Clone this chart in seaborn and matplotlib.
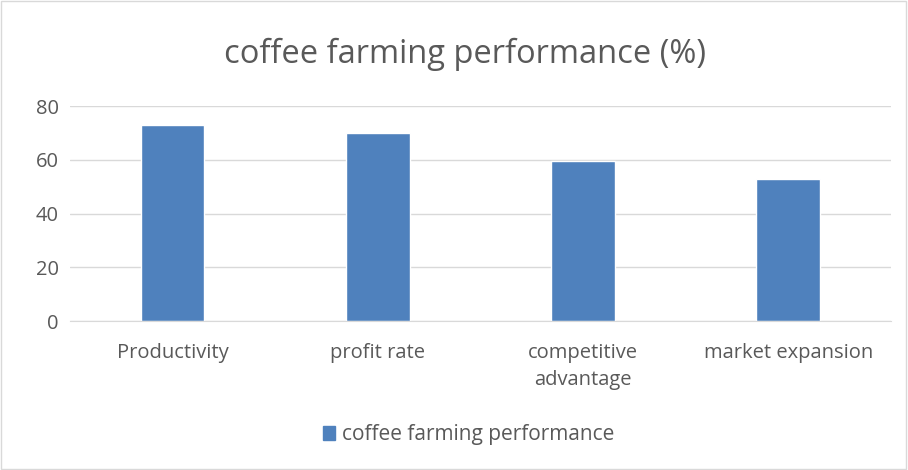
import pandas as pd
import matplotlib.pyplot as plt
import seaborn as sns
from matplotlib.patches import Rectangle

# data
categories = ["Productivity", "profit rate", "competitive\nadvantage", "market expansion"]
values = [73, 70, 59.5, 53]
series_name = "coffee farming performance"

df = pd.DataFrame({"category": categories, "value": values, "series": series_name})

sns.set_style("white")
plt.rcParams["font.family"] = ["Open Sans", "DejaVu Sans"]

fig = plt.figure(figsize=(9.08, 4.70), dpi=100)
ax = fig.add_axes([0.077, 0.317, 0.904, 0.457])

sns.barplot(data=df, x="category", y="value", hue="series", palette=["#4F81BD"],
            width=0.31, ax=ax, legend=False, saturation=1)

ax.set_ylim(0, 80)
ax.set_yticks([0, 20, 40, 60, 80])
ax.set_xlim(-0.5, 3.5)
ax.yaxis.grid(True, color="#D9D9D9", linewidth=1)
ax.set_axisbelow(True)
for s in ["left", "right", "top"]:
    ax.spines[s].set_visible(False)
ax.spines["bottom"].set_color("#D9D9D9")
ax.tick_params(axis="both", length=0, colors="#595959", labelsize=14.5)
ax.tick_params(axis="x", pad=16)
ax.tick_params(axis="y", pad=8)
for lbl in ax.get_xticklabels():
    lbl.set_linespacing(1.45)
ax.set_xlabel("")
ax.set_ylabel("")

fig.text(0.512, 0.885, "coffee farming performance (%)", ha="center", va="center",
         fontsize=23.5, color="#595959")

# legend
handle = Rectangle((0, 0), 1, 1, color="#4F81BD")
fig.legend([handle], [series_name], loc="center", bbox_to_anchor=(0.516, 0.075),
           frameon=False, fontsize=15, handlelength=0.6, handleheight=0.6,
           handletextpad=0.3, labelcolor="#595959")

# chart border
fig.patches.append(Rectangle((0.001, 0.003), 0.997, 0.994, transform=fig.transFigure,
                             fill=False, edgecolor="#D9D9D9", linewidth=1))

fig.savefig("out.png", dpi=100)
